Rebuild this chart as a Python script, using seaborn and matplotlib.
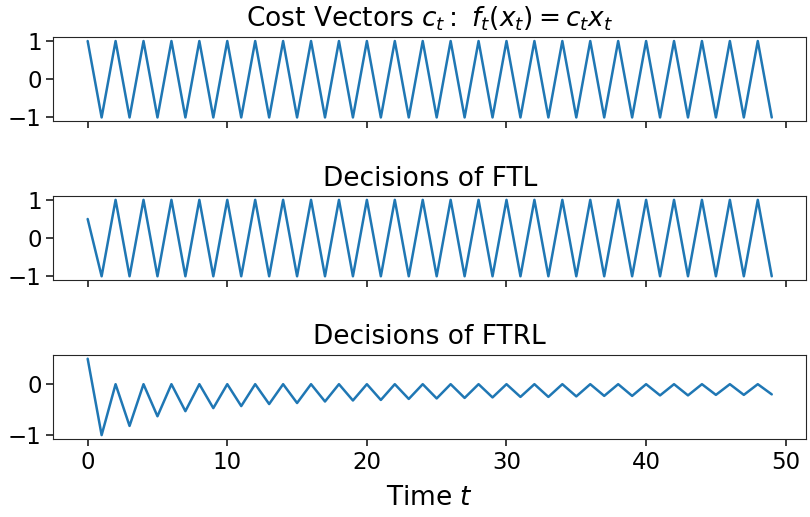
import matplotlib
matplotlib.use("Agg")
import matplotlib.pyplot as plt
import seaborn as sns

# time steps 0..49
t = [0, 1, 2, 3, 4, 5, 6, 7, 8, 9,
     10, 11, 12, 13, 14, 15, 16, 17, 18, 19,
     20, 21, 22, 23, 24, 25, 26, 27, 28, 29,
     30, 31, 32, 33, 34, 35, 36, 37, 38, 39,
     40, 41, 42, 43, 44, 45, 46, 47, 48, 49]

cost = [1, -1, 1, -1, 1, -1, 1, -1, 1, -1,
        1, -1, 1, -1, 1, -1, 1, -1, 1, -1,
        1, -1, 1, -1, 1, -1, 1, -1, 1, -1,
        1, -1, 1, -1, 1, -1, 1, -1, 1, -1,
        1, -1, 1, -1, 1, -1, 1, -1, 1, -1]

ftl = [0.5, -1, 1, -1, 1, -1, 1, -1, 1, -1,
       1, -1, 1, -1, 1, -1, 1, -1, 1, -1,
       1, -1, 1, -1, 1, -1, 1, -1, 1, -1,
       1, -1, 1, -1, 1, -1, 1, -1, 1, -1,
       1, -1, 1, -1, 1, -1, 1, -1, 1, -1]

ftrl = [0.5, -1.0, 0, -0.82, 0, -0.63, 0, -0.53, 0, -0.47,
        0, -0.43, 0, -0.39, 0, -0.37, 0, -0.34, 0, -0.32,
        0, -0.31, 0, -0.29, 0, -0.28, 0, -0.27, 0, -0.26,
        0, -0.25, 0, -0.25, 0, -0.24, 0, -0.23, 0, -0.23,
        0, -0.22, 0, -0.22, 0, -0.21, 0, -0.21, 0, -0.20]

titles = [r"Cost Vectors $c_t:\ f_t(x_t) = c_t x_t$",
          "Decisions of FTL",
          "Decisions of FTRL"]
yticks = [[-1, 0, 1], [-1, 0, 1], [-1, 0]]

sns.set_style("ticks")
plt.rcParams["font.family"] = ["DejaVu Sans"]
plt.rcParams["text.color"] = "black"
plt.rcParams["axes.labelcolor"] = "black"

fig, axes = plt.subplots(3, 1, figsize=(8.1, 5.17), dpi=100, sharex=True)
for ax, y, title, yt in zip(axes, [cost, ftl, ftrl], titles, yticks):
    sns.lineplot(x=t, y=y, ax=ax, color="tab:blue", linewidth=1.8)
    ax.set_title(title, fontsize=19, pad=7.5)
    ax.set_yticks(yt)
    ax.tick_params(labelsize=16.5, length=5, width=1.25, labelcolor="black")

axes[2].set_xlabel("Time $t$", fontsize=19, labelpad=8)
fig.subplots_adjust(left=0.066, right=0.995, top=0.928, bottom=0.151, hspace=0.89)
fig.savefig("out.png", dpi=100)
